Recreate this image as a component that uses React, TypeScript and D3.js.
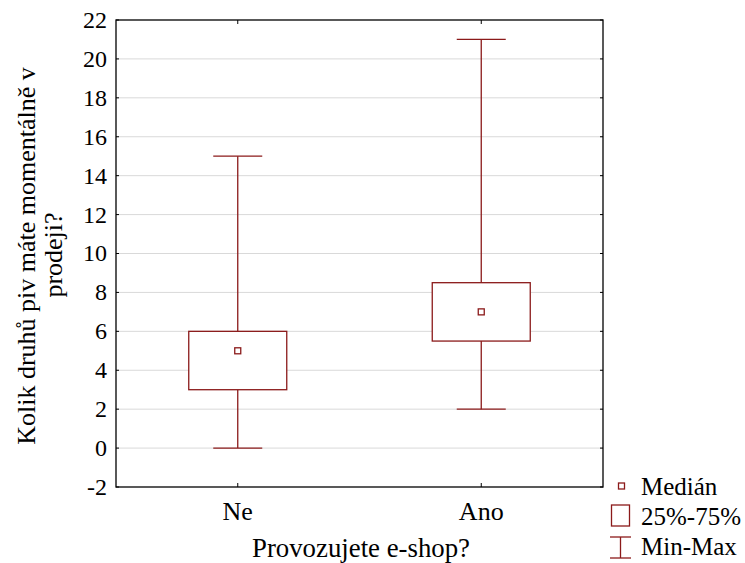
import React from "react";
import * as d3 from "d3";

const categories = ["Ne", "Ano"];
const minValues = [0, 2];
const q1Values = [3, 5.5];
const medianValues = [5, 7];
const q3Values = [6, 8.5];
const maxValues = [15, 21];
const yTicks = [-2, 0, 2, 4, 6, 8, 10, 12, 14, 16, 18, 20, 22];
const legendLabels = ["Medián", "25%-75%", "Min-Max"];

const W = 745, H = 563;
const L = 116, R = 603, T = 20, B = 487;
const RED = "#8b1a1a";
const FONT = "Liberation Serif, Times New Roman, DejaVu Serif, serif";

export default function App() {
  const y = d3.scaleLinear().domain([-2, 22]).range([B, T]);
  const x = d3.scalePoint<string>().domain(categories).range([L, R]).padding(0.5);
  const boxW = 98;
  const capW = 49;
  return (
    <svg width={W} height={H} style={{ position: "absolute", left: 0, top: 0 }}>
      <rect width={W} height={H} fill="#fff" />
      {yTicks.map((t) => (
        <g key={t}>
          {t > -2 && t < 22 && (
            <line x1={L} x2={R} y1={y(t)} y2={y(t)} stroke="#d9d9d9" strokeWidth={1} />
          )}
          <line x1={L} x2={L + 3} y1={y(t)} y2={y(t)} stroke="#000" />
          <line x1={R - 3} x2={R} y1={y(t)} y2={y(t)} stroke="#000" />
          <text x={107} y={y(t)} dy="0.33em" textAnchor="end" fontFamily={FONT} fontSize={24}>
            {t}
          </text>
        </g>
      ))}
      {categories.map((c, i) => {
        const cx = x(c)!;
        return (
          <g key={c}>
            <line x1={cx} x2={cx} y1={B} y2={B - 4} stroke="#000" />
            <line x1={cx} x2={cx} y1={T} y2={T + 4} stroke="#000" />
            <line x1={cx} x2={cx} y1={y(maxValues[i])} y2={y(q3Values[i])} stroke={RED} strokeWidth={1.3} />
            <line x1={cx} x2={cx} y1={y(q1Values[i])} y2={y(minValues[i])} stroke={RED} strokeWidth={1.3} />
            <line x1={cx - capW / 2} x2={cx + capW / 2} y1={y(maxValues[i])} y2={y(maxValues[i])} stroke={RED} strokeWidth={1.3} />
            <line x1={cx - capW / 2} x2={cx + capW / 2} y1={y(minValues[i])} y2={y(minValues[i])} stroke={RED} strokeWidth={1.3} />
            <rect x={cx - boxW / 2} y={y(q3Values[i])} width={boxW} height={y(q1Values[i]) - y(q3Values[i])} fill="#fff" stroke={RED} strokeWidth={1.3} />
            <rect x={cx - 3} y={y(medianValues[i]) - 3} width={6} height={6} fill="#fff" stroke={RED} strokeWidth={1.3} />
            <text x={cx} y={520} textAnchor="middle" fontFamily={FONT} fontSize={26}>
              {c}
            </text>
          </g>
        );
      })}
      <rect x={L} y={T} width={R - L} height={B - T} fill="none" stroke="#000" strokeWidth={1.3} />
      <text x={361} y={557} textAnchor="middle" fontFamily={FONT} fontSize={26.8}>
        Provozujete e-shop?
      </text>
      <text transform={`translate(35,256) rotate(-90)`} textAnchor="middle" fontFamily={FONT} fontSize={26}>
        Kolik druhů piv máte momentálně v
      </text>
      <text transform={`translate(62,255) rotate(-90)`} textAnchor="middle" fontFamily={FONT} fontSize={26}>
        prodeji?
      </text>
      {/* legend */}
      <rect x={618.5} y={483} width={6} height={6} fill="#fff" stroke={RED} strokeWidth={1.3} />
      <text x={641} y={495} fontFamily={FONT} fontSize={25}>{legendLabels[0]}</text>
      <rect x={611.5} y={505} width={18} height={21} fill="#fff" stroke={RED} strokeWidth={1.3} />
      <text x={641} y={525} fontFamily={FONT} fontSize={25}>{legendLabels[1]}</text>
      <line x1={610} x2={631} y1={537} y2={537} stroke={RED} strokeWidth={1.3} />
      <line x1={620.5} x2={620.5} y1={537} y2={558} stroke={RED} strokeWidth={1.3} />
      <line x1={610} x2={631} y1={558} y2={558} stroke={RED} strokeWidth={1.3} />
      <text x={641} y={555} fontFamily={FONT} fontSize={25}>{legendLabels[2]}</text>
    </svg>
  );
}
